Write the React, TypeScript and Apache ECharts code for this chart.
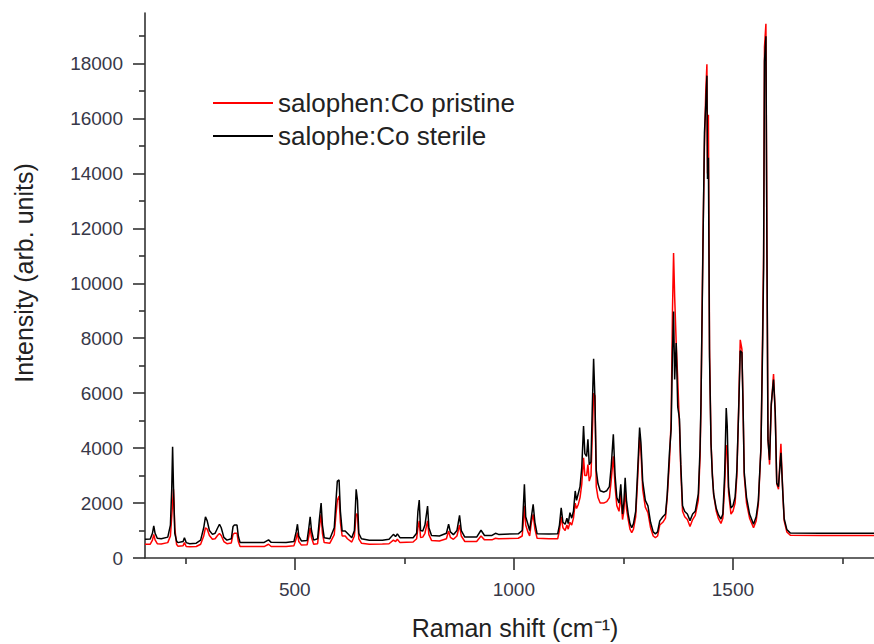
import React, { useEffect, useRef } from "react";
import * as echarts from "echarts";

const RAMAN_SHIFT = [
  158, 170, 175, 178, 181, 186, 195, 210, 216, 219, 221, 223, 226, 230, 233, 245, 248, 252, 260, 275,
  285, 292, 296, 300, 305, 312, 318, 324, 328, 332, 338, 345, 355, 359, 362, 368, 371, 375, 400, 430,
  440, 446, 480, 498, 503, 506, 509, 515, 528, 532, 535, 538, 543, 552, 556, 560, 563, 567, 580, 590,
  594, 597, 601, 604, 608, 615, 620, 630, 636, 640, 643, 646, 652, 670, 700, 715, 725, 730, 734, 740,
  770, 778, 781, 784, 787, 792, 797, 803, 806, 812, 830, 846, 851, 855, 862, 870, 876, 880, 888, 915,
  925, 933, 950, 958, 965, 1010, 1019, 1022, 1024, 1027, 1032, 1036, 1040, 1044, 1048, 1053, 1080, 1100, 1104, 1108,
  1112, 1117, 1121, 1124, 1128, 1132, 1136, 1140, 1143, 1147, 1151, 1155, 1159, 1162, 1166, 1169, 1172, 1176, 1179, 1182,
  1185, 1188, 1192, 1197, 1205, 1212, 1218, 1222, 1227, 1231, 1235, 1240, 1244, 1248, 1251, 1254, 1257, 1261, 1265, 1269,
  1273, 1278, 1282, 1287, 1290, 1294, 1300, 1306, 1312, 1318, 1323, 1328, 1333, 1340, 1346, 1350, 1355, 1359, 1362, 1364.5,
  1367, 1370.5, 1374, 1378, 1381, 1385, 1390, 1396, 1402, 1408, 1414, 1421, 1425, 1427, 1431.5, 1435, 1438, 1440.6, 1442, 1444,
  1446.6, 1450, 1453, 1456, 1462, 1467, 1472.6, 1477, 1481, 1484.7, 1487, 1490, 1495.5, 1500, 1505, 1509, 1513, 1516.7, 1520.5, 1523,
  1525.8, 1531, 1538, 1547, 1553, 1558, 1564, 1568, 1570, 1572, 1575.3, 1577.6, 1580, 1583.6, 1587.4, 1592.7, 1596.5, 1600, 1604, 1609.5,
  1614, 1617, 1623, 1631, 1700, 1750, 1800, 1822,
];

const STERILE = [
  680, 690, 900, 1170, 900, 720, 700, 760, 1200, 2500, 4050, 2600, 900, 620, 560, 600, 740, 560, 520, 540,
  650, 1100, 1500, 1350, 1000, 860, 900, 1100, 1230, 1100, 750, 650, 700, 1150, 1200, 1200, 800, 560, 560, 565,
  660, 570, 565, 600, 950, 1230, 800, 620, 640, 1100, 1500, 1000, 650, 700, 1400, 2000, 1200, 740, 700, 1100,
  2100, 2800, 2840, 1700, 980, 980, 900, 740, 1000, 2500, 2100, 900, 700, 650, 650, 680, 860, 780, 880, 740,
  740, 900, 1700, 2110, 1000, 980, 1200, 1890, 1100, 820, 800, 900, 1230, 950, 850, 1000, 1550, 1000, 760, 760,
  1010, 820, 820, 900, 860, 880, 1000, 2000, 2680, 1500, 1230, 1000, 1500, 1950, 1300, 880, 870, 880, 1200, 1830,
  1300, 1230, 1450, 1250, 1650, 1450, 1700, 2440, 2100, 2350, 2600, 3300, 4800, 3800, 3700, 4320, 3400, 3500, 5500, 7250,
  5800, 3200, 2700, 2450, 2400, 2450, 2600, 3300, 4500, 3000, 2200, 2000, 2680, 1600, 2000, 2920, 2100, 1600, 1250, 1100,
  1250, 1700, 3000, 4750, 4200, 2800, 2100, 1900, 1300, 950, 880, 950, 1350, 1500, 1600, 2300, 3800, 4700, 7500, 8970,
  6500, 7830, 5500, 5060, 3390, 1900, 1690, 1600, 1360, 1600, 1700, 2330, 4000, 5590, 11180, 15480, 16500, 17560, 13800, 14570,
  7290, 4150, 3000, 2330, 1800, 1570, 1420, 1600, 3000, 5460, 4800, 2590, 1820, 1900, 2220, 3200, 5330, 7540, 7480, 5650,
  3120, 2210, 1600, 1230, 1500, 2080, 4030, 8000, 10530, 18080, 18990, 11180, 4290, 3570, 5590, 6500, 5330, 2730, 2600, 3830,
  2340, 1430, 1040, 910, 905, 900, 905, 900,
];

const PRISTINE = [
  500, 505, 650, 860, 660, 520, 510, 560, 800, 1500, 2000, 2500, 1100, 500, 430, 450, 560, 420, 410, 420,
  500, 800, 1100, 1050, 820, 680, 700, 830, 890, 820, 600, 520, 550, 860, 900, 900, 600, 420, 415, 415,
  500, 420, 415, 450, 700, 920, 600, 470, 480, 800, 1100, 750, 500, 520, 1100, 1590, 900, 560, 540, 850,
  1600, 2100, 2260, 1300, 800, 800, 700, 580, 800, 1600, 1590, 700, 540, 500, 510, 520, 650, 600, 680, 560,
  580, 700, 1100, 1350, 750, 760, 900, 1350, 850, 640, 620, 700, 980, 750, 680, 800, 1200, 800, 600, 600,
  800, 660, 660, 720, 700, 720, 800, 1400, 1900, 1200, 950, 800, 1300, 1590, 1050, 720, 700, 700, 1000, 1500,
  1100, 1000, 1200, 1050, 1300, 1200, 1450, 2000, 1800, 1950, 2200, 2700, 3650, 3000, 3000, 3400, 2800, 3000, 4500, 6000,
  5900, 2600, 2200, 2000, 2000, 2050, 2200, 2800, 3700, 2600, 1900, 1700, 2300, 1400, 1700, 2500, 1800, 1400, 1050, 920,
  1050, 1500, 2700, 4400, 3900, 2500, 1850, 1650, 1100, 800, 740, 800, 1200, 1300, 1450, 2200, 3500, 5000, 9000, 11100,
  9500, 7830, 6500, 4800, 3200, 1700, 1500, 1400, 1150, 1400, 1550, 2100, 3700, 5500, 11500, 15000, 17000, 17975, 14000, 16140,
  7600, 4200, 3100, 2300, 1700, 1430, 1260, 1450, 2600, 4100, 4000, 2400, 1600, 1700, 2000, 3000, 5400, 7940, 7600, 5600,
  3000, 2000, 1450, 1100, 1350, 1950, 4000, 8500, 11000, 18600, 19450, 11440, 4400, 3400, 5500, 6700, 5300, 2700, 2500, 4160,
  2300, 1350, 950, 830, 820, 815, 815, 815,
];

const SERIES_NAMES = ["salophen:Co pristine", "salophe:Co sterile"];
const Y_MAJOR = [0, 2000, 4000, 6000, 8000, 10000, 12000, 14000, 16000, 18000];
const Y_MINOR = [1000, 3000, 5000, 7000, 9000, 11000, 13000, 15000, 17000, 19000];
const X_MAJOR = [500, 1000, 1500];
const X_MINOR = [250, 750, 1250, 1750];

const X_MIN = 158;
const X_MAX = 1822;
const Y_MAX = 19840;

const FONT = "'Liberation Sans', Arial, sans-serif";
const AXIS_COLOR = "#333333";
const LABEL_COLOR = "#383848";

export default function App() {
  const ref = useRef<HTMLDivElement>(null);

  useEffect(() => {
    if (!ref.current) return;
    const chart = echarts.init(ref.current, undefined, { renderer: "svg" });
    const pristine = RAMAN_SHIFT.map((x, i) => [x, PRISTINE[i]]);
    const sterile = RAMAN_SHIFT.map((x, i) => [x, STERILE[i]]);

    const axisLineStyle = { color: AXIS_COLOR, width: 1.6 };
    const plain = (v: number) => String(v);

    chart.setOption({
      animation: false,
      backgroundColor: "#ffffff",
      grid: { left: 145, right: 0, top: 13, bottom: 86, containLabel: false },
      legend: {
        orient: "vertical",
        left: 208,
        top: 85,
        padding: 5,
        icon: "rect",
        itemWidth: 60,
        itemHeight: 2,
        itemGap: 7,
        data: SERIES_NAMES,
        textStyle: { fontFamily: FONT, fontSize: 26, lineHeight: 26, color: "#222222" },
        selectedMode: false,
      },
      xAxis: [
        {
          type: "value",
          min: X_MIN,
          max: X_MAX,
          position: "bottom",
          splitLine: { show: false },
          axisLine: { show: true, onZero: false, lineStyle: axisLineStyle },
          axisTick: { show: true, length: 12, customValues: X_MAJOR, lineStyle: axisLineStyle },
          axisLabel: {
            show: true,
            customValues: X_MAJOR,
            formatter: plain,
            margin: 22,
            fontFamily: FONT,
            fontSize: 19,
            color: LABEL_COLOR,
          },
        },
        {
          type: "value",
          min: X_MIN,
          max: X_MAX,
          position: "bottom",
          splitLine: { show: false },
          axisLine: { show: false },
          axisTick: { show: true, length: 6, customValues: X_MINOR, lineStyle: axisLineStyle },
          axisLabel: { show: false },
        },
      ],
      yAxis: [
        {
          type: "value",
          min: 0,
          max: Y_MAX,
          position: "left",
          splitLine: { show: false },
          axisLine: { show: true, onZero: false, lineStyle: axisLineStyle },
          axisTick: { show: true, length: 12, customValues: Y_MAJOR, lineStyle: axisLineStyle },
          axisLabel: {
            show: true,
            customValues: Y_MAJOR,
            formatter: plain,
            margin: 22,
            fontFamily: FONT,
            fontSize: 19,
            color: LABEL_COLOR,
          },
        },
        {
          type: "value",
          min: 0,
          max: Y_MAX,
          position: "left",
          splitLine: { show: false },
          axisLine: { show: false },
          axisTick: { show: true, length: 6, customValues: Y_MINOR, lineStyle: axisLineStyle },
          axisLabel: { show: false },
        },
      ],
      graphic: [
        {
          type: "text",
          x: 515,
          y: 628,
          style: {
            text: "Raman shift (cm⁻¹)",
            fontFamily: FONT,
            fontSize: 25,
            fill: "#222222",
            align: "center",
            verticalAlign: "middle",
          },
        },
        {
          type: "text",
          x: 24,
          y: 273,
          rotation: Math.PI / 2,
          style: {
            text: "Intensity (arb. units)",
            fontFamily: FONT,
            fontSize: 25,
            fill: "#222222",
            align: "center",
            verticalAlign: "middle",
          },
        },
      ],
      series: [
        {
          name: SERIES_NAMES[0],
          type: "line",
          xAxisIndex: 0,
          yAxisIndex: 0,
          data: pristine,
          showSymbol: false,
          symbol: "none",
          color: "#ff0000",
          lineStyle: { color: "#ff0000", width: 1.5 },
        },
        {
          name: SERIES_NAMES[1],
          type: "line",
          xAxisIndex: 0,
          yAxisIndex: 0,
          data: sterile,
          showSymbol: false,
          symbol: "none",
          color: "#000000",
          lineStyle: { color: "#000000", width: 1.5 },
        },
      ],
    });

    return () => chart.dispose();
  }, []);

  return (
    <div
      ref={ref}
      style={{ position: "fixed", left: 0, top: 0, width: 874, height: 644, background: "#fff" }}
    />
  );
}
